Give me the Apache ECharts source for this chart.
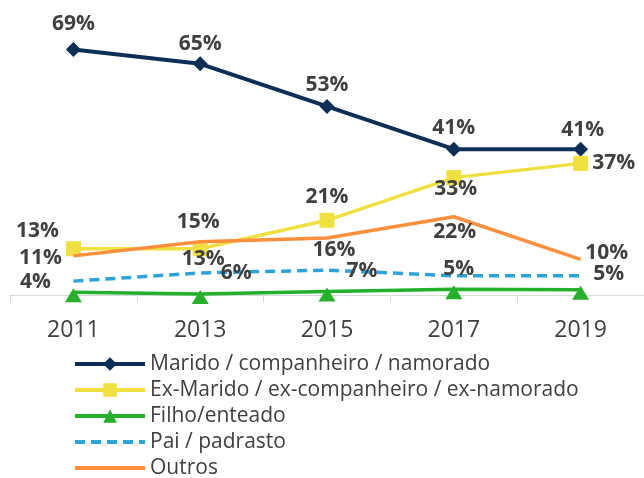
<!DOCTYPE html>
<html><head><meta charset="utf-8">
<script src="https://cdn.jsdelivr.net/npm/echarts@6/dist/echarts.min.js"></script>
<style>html,body{margin:0;padding:0;background:#fff}#c{width:644px;height:478px}</style>
</head><body><div id="c"></div>
<script>
const categories = ['2011', '2013', '2015', '2017', '2019'];
const seriesNames = ['Marido / companheiro / namorado', 'Ex-Marido / ex-companheiro / ex-namorado', 'Filho/enteado', 'Pai / padrasto', 'Outros'];
const marido = [69, 65, 53, 41, 41];
const exMarido = [13, 13, 21, 33, 37];
const filho = [0.8, 0.3, 1.0, 1.6, 1.5];
const pai = [3.9, 6.2, 7.0, 5.4, 5.4];
const outros = [11, 15, 16, 22, 10];

// label placement offsets (style only)
const offMarido = [[0,-26],[0,-20],[0,-21],[0,-21],[2,-19]];
const offEx = [[-36,-18],[3,10],[0,-23],[2,11],[33,0]];
const offPai = [[-38,1],[36,0],[35,1],[5,-7],[28,-2]];
const offOutros = [[-33,2],[-2,-20],[7,12],[1,15],[26,-6]];

const FONT = '"Open Sans", "Liberation Sans", sans-serif';
const TXT = '#404040';
const CLEAR = 'rgba(0,0,0,0)';

function withLabels(vals, offs) {
  return vals.map((v, i) => ({ value: v, label: { offset: offs[i] } }));
}
const labelBase = {
  show: true, position: 'inside', fontFamily: FONT, fontWeight: 'bold',
  fontSize: 21, color: TXT, formatter: p => Math.round(p.value) + '%'
};

const chart = echarts.init(document.getElementById('c'), null, { renderer: 'canvas' });
chart.setOption({
  animation: false,
  backgroundColor: '#fff',
  grid: { left: 10, right: -8, top: 46, bottom: 183 },
  legend: {
    orient: 'vertical', left: 73, top: 351, height: 140, padding: 0,
    itemWidth: 70, itemHeight: 17, itemGap: 0,
    lineStyle: { width: 4 },
    textStyle: { fontFamily: FONT, fontSize: 21, color: TXT, lineHeight: 26 },
    data: seriesNames
  },
  xAxis: {
    type: 'category', data: categories, boundaryGap: true,
    axisLine: { lineStyle: { color: '#d9d9d9', width: 1 } },
    axisTick: { show: true, length: 7, lineStyle: { color: '#d9d9d9' } },
    axisLabel: { fontFamily: FONT, fontSize: 23, color: TXT, margin: 24 },
    splitLine: { show: false }
  },
  yAxis: { type: 'value', min: 0, max: 70, show: false },
  series: [
    { name: seriesNames[0], type: 'line', data: withLabels(marido, offMarido),
      symbol: 'diamond', symbolSize: 15, itemStyle: { color: '#0d2f55' },
      lineStyle: { color: '#0d2f55', width: 4 }, label: labelBase, z: 2 },
    { name: seriesNames[1], type: 'line', data: withLabels(exMarido, offEx),
      symbol: 'rect', symbolSize: 15, itemStyle: { color: '#f0e040' },
      lineStyle: { color: '#f0e040', width: 3.5 }, label: labelBase, z: 3 },
    { name: seriesNames[2], type: 'line', data: filho,
      symbol: 'triangle', symbolSize: [17, 14], symbolOffset: [0, 3], itemStyle: { color: '#25b02c' },
      lineStyle: { color: '#25b02c', width: 3.5 }, label: { show: false }, z: 4 },
    { name: seriesNames[3], type: 'line', data: withLabels(pai, offPai),
      symbol: 'circle', symbolSize: 2, itemStyle: { color: CLEAR, borderColor: CLEAR, borderWidth: 0 },
      lineStyle: { color: '#2ea3da', width: 3.5, type: [10, 6] }, label: labelBase, z: 5 },
    { name: seriesNames[4], type: 'line', data: withLabels(outros, offOutros),
      symbol: 'circle', symbolSize: 2, itemStyle: { color: CLEAR, borderColor: CLEAR, borderWidth: 0 },
      lineStyle: { color: '#fb8f3c', width: 3.5 }, label: labelBase, z: 6 }
  ]
});
</script>
</body></html>
